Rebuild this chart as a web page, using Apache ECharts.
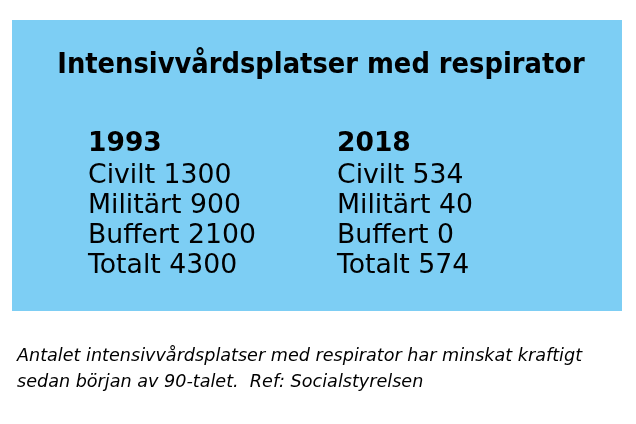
<!DOCTYPE html>
<html>
<head>
<meta charset="utf-8">
<script src="https://cdn.jsdelivr.net/npm/echarts@6/dist/echarts.min.js"></script>
<style>
  html, body { margin: 0; padding: 0; background: #fff; }
  #main { width: 636px; height: 424px; }
</style>
</head>
<body>
<div id="main"></div>
<script>
var myChart = echarts.init(document.getElementById('main'));

// data
var title = 'Intensivvårdsplatser med respirator';
var years = ['1993', '2018'];
var categories = ['Civilt', 'Militärt', 'Buffert', 'Totalt'];
var values1993 = [1300, 900, 2100, 4300];
var values2018 = [534, 40, 0, 574];
var caption = [
  'Antalet intensivvårdsplatser med respirator har minskat kraftigt',
  'sedan början av 90-talet.  Ref: Socialstyrelsen'
];

var condFont = '"DejaVu Sans Condensed", "DejaVu Sans", sans-serif';
var bodyFont = '"DejaVu Sans", sans-serif';
var colX = [88, 337];
var allValues = [values1993, values2018];

var elements = [
  {
    type: 'rect',
    shape: { x: 12, y: 20, width: 610, height: 291 },
    style: { fill: '#7dcef4' }
  },
  {
    type: 'text',
    x: 321, y: 66,
    style: {
      text: title, fill: '#000',
      font: 'bold 28.7px ' + condFont,
      align: 'center', verticalAlign: 'middle'
    }
  }
];

years.forEach(function (yr, i) {
  elements.push({
    type: 'text',
    x: colX[i], y: 144,
    style: { text: yr, fill: '#000', font: 'bold 26.5px ' + bodyFont, verticalAlign: 'middle' }
  });
  categories.forEach(function (c, j) {
    elements.push({
      type: 'text',
      x: colX[i], y: 176 + j * 30,
      style: { text: c + ' ' + allValues[i][j], fill: '#000', font: '26.7px ' + bodyFont, verticalAlign: 'middle' }
    });
  });
});

caption.forEach(function (line, k) {
  elements.push({
    type: 'text',
    x: 17, y: 356 + k * 26,
    style: { text: line, fill: '#000', font: 'italic 17.6px ' + bodyFont, verticalAlign: 'middle' }
  });
});

var option = {
  animation: false,
  graphic: elements
};

myChart.setOption(option);
</script>
</body>
</html>
